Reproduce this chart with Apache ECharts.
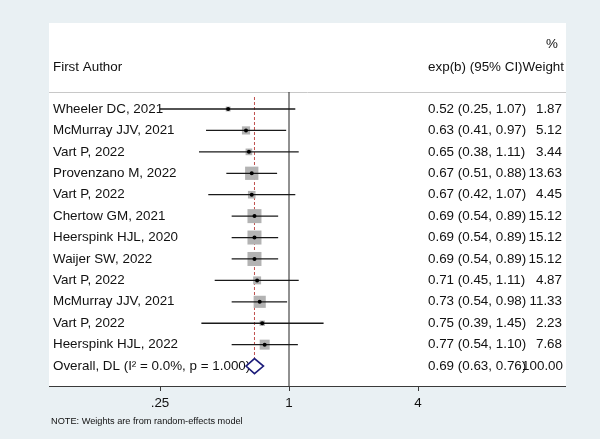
<!DOCTYPE html>
<html>
<head>
<meta charset="utf-8">
<script src="https://cdn.jsdelivr.net/npm/echarts@6/dist/echarts.min.js"></script>
<style>
html,body{margin:0;padding:0;background:#e9f0f3;}
#chart{width:600px;height:439px;}
</style>
</head>
<body>
<div id="chart"></div>
<script>
// ---- data ----
const authors = [
  'Wheeler DC, 2021', 'McMurray JJV, 2021', 'Vart P, 2022', 'Provenzano M, 2022',
  'Vart P, 2022', 'Chertow GM, 2021', 'Heerspink HJL, 2020', 'Waijer SW, 2022',
  'Vart P, 2022', 'McMurray JJV, 2021', 'Vart P, 2022', 'Heerspink HJL, 2022'
];
const estimates = [0.52, 0.63, 0.65, 0.67, 0.67, 0.69, 0.69, 0.69, 0.71, 0.73, 0.75, 0.77];
const ciLower   = [0.25, 0.41, 0.38, 0.51, 0.42, 0.54, 0.54, 0.54, 0.45, 0.54, 0.39, 0.54];
const ciUpper   = [1.07, 0.97, 1.11, 0.88, 1.07, 0.89, 0.89, 0.89, 1.11, 0.98, 1.45, 1.10];
const weights   = [1.87, 5.12, 3.44, 13.63, 4.45, 15.12, 15.12, 15.12, 4.87, 11.33, 2.23, 7.68];
const overallLabel = 'Overall, DL (I² = 0.0%, p = 1.000)';
const overallValues = [0.69, 0.63, 0.76, 100.00]; // estimate, lower, upper, weight
const xTickValues = [0.25, 1, 4];
const xTickLabels = ['.25', '1', '4'];

// ---- layout ----
const FONT = '13.4px "Liberation Sans", Arial, sans-serif';
const yMin = -4.015, yMax = 12.93;
const maxW = Math.max.apply(null, weights);

const chart = echarts.init(document.getElementById('chart'), null, {renderer: 'canvas'});

function fmt(v) { return v.toFixed(2); }

const studyData = authors.map((a, i) => [estimates[i], ciLower[i], ciUpper[i], weights[i], i]);
const overallRow = authors.length;

function renderStudy(params, api) {
  const i = api.value(4);
  const e = api.coord([api.value(0), i]);
  const l = api.coord([api.value(1), i]);
  const h = api.coord([api.value(2), i]);
  const w = api.value(3);
  const side = 14 * Math.sqrt(w / maxW);
  const y = e[1];
  return {
    type: 'group',
    children: [
      {type: 'rect', shape: {x: e[0] - side / 2, y: y - side / 2, width: side, height: side},
       style: {fill: '#b3b3b3'}},
      {type: 'line', shape: {x1: l[0], y1: y, x2: h[0], y2: y},
       style: {stroke: '#1a1a1a', lineWidth: 1.3}},
      {type: 'circle', shape: {cx: e[0], cy: y, r: 2},
       style: {fill: '#000'}},
      {type: 'text', style: {x: 53, y: y, text: authors[i], font: FONT, fill: '#111',
        align: 'left', verticalAlign: 'middle'}},
      {type: 'text', style: {x: 428, y: y,
        text: fmt(api.value(0)) + ' (' + fmt(api.value(1)) + ', ' + fmt(api.value(2)) + ')',
        font: FONT, fill: '#111', align: 'left', verticalAlign: 'middle'}},
      {type: 'text', style: {x: 562, y: y, text: fmt(w), font: FONT, fill: '#111',
        align: 'right', verticalAlign: 'middle'}}
    ]
  };
}

function renderOverall(params, api) {
  const i = api.value(4);
  const e = api.coord([api.value(0), i]);
  const l = api.coord([api.value(1), i]);
  const h = api.coord([api.value(2), i]);
  const y = e[1];
  const hh = 7.5;
  return {
    type: 'group',
    children: [
      {type: 'text', style: {x: 53, y: y, text: overallLabel, font: FONT, fill: '#111',
        align: 'left', verticalAlign: 'middle'}},
      {type: 'polygon', shape: {points: [[l[0], y], [e[0], y - hh], [h[0], y], [e[0], y + hh]]},
       style: {fill: '#fff', stroke: '#1c1c7a', lineWidth: 1.6}},
      {type: 'text', style: {x: 428, y: y,
        text: fmt(api.value(0)) + ' (' + fmt(api.value(1)) + ', ' + fmt(api.value(2)) + ')',
        font: FONT, fill: '#111', align: 'left', verticalAlign: 'middle'}},
      {type: 'text', style: {x: 563, y: y, text: fmt(api.value(3)), font: FONT, fill: '#111',
        align: 'right', verticalAlign: 'middle'}}
    ]
  };
}

const option = {
  backgroundColor: '#e9f0f3',
  animation: false,
  grid: {left: 160, right: 182, top: 23, bottom: 53, containLabel: false},
  xAxis: {
    type: 'log',
    logBase: 4,
    min: xTickValues[0],
    max: xTickValues[xTickValues.length - 1],
    axisLine: {show: true, onZero: false, lineStyle: {color: '#3a3a3a', width: 1}},
    axisTick: {show: true, length: 5, lineStyle: {color: '#3a3a3a'}},
    axisLabel: {
      margin: 11,
      color: '#111',
      fontSize: 13.4,
      fontFamily: '"Liberation Sans", Arial, sans-serif',
      formatter: function (v) {
        for (let k = 0; k < xTickValues.length; k++) {
          if (Math.abs(v - xTickValues[k]) < 1e-6) return xTickLabels[k];
        }
        return '';
      }
    },
    splitLine: {show: false},
    minorTick: {show: false}
  },
  yAxis: {
    type: 'value', inverse: true, min: yMin, max: yMax, show: false,
    splitLine: {show: false}
  },
  graphic: [
    {type: 'rect', z: -10, shape: {x: 49, y: 23, width: 517, height: 363}, style: {fill: '#ffffff'}},
    {type: 'line', z: 0, shape: {x1: 49, y1: 92.5, x2: 566, y2: 92.5}, style: {stroke: '#c8c8c8', lineWidth: 1}},
    {type: 'line', z: 0, shape: {x1: 49, y1: 386.5, x2: 566, y2: 386.5}, style: {stroke: '#3a3a3a', lineWidth: 1}},
    {type: 'text', z: 5, style: {x: 53, y: 67, text: 'First Author', font: FONT, fill: '#111', align: 'left', verticalAlign: 'middle'}},
    {type: 'text', z: 5, style: {x: 558, y: 44, text: '%', font: FONT, fill: '#111', align: 'right', verticalAlign: 'middle'}},
    {type: 'text', z: 5, style: {x: 564, y: 67, text: 'exp(b) (95% CI)Weight', font: FONT, fill: '#111', align: 'right', verticalAlign: 'middle'}},
    {type: 'text', z: 5, style: {x: 51, y: 421, text: 'NOTE: Weights are from random-effects model', font: '9.2px "Liberation Sans", Arial, sans-serif', fill: '#111', align: 'left', verticalAlign: 'middle'}}
  ],
  series: [
    {
      type: 'line', silent: true, symbol: 'none',
      data: [[1, -0.794], [1, yMax]],
      lineStyle: {color: '#222', width: 1}, z: 1
    },
    {
      type: 'line', silent: true, symbol: 'none',
      data: [[overallValues[0], -0.56], [overallValues[0], overallRow - 0.35]],
      lineStyle: {color: '#c0504d', width: 1, type: [3, 2]}, z: 1
    },
    {
      type: 'custom', renderItem: renderStudy, data: studyData,
      encode: {x: [0, 1, 2], y: 4}, z: 3, silent: true, clip: false
    },
    {
      type: 'custom', renderItem: renderOverall,
      data: [[overallValues[0], overallValues[1], overallValues[2], overallValues[3], overallRow]],
      encode: {x: [0, 1, 2], y: 4}, z: 4, silent: true, clip: false
    }
  ]
};
chart.setOption(option);
</script>
</body>
</html>
